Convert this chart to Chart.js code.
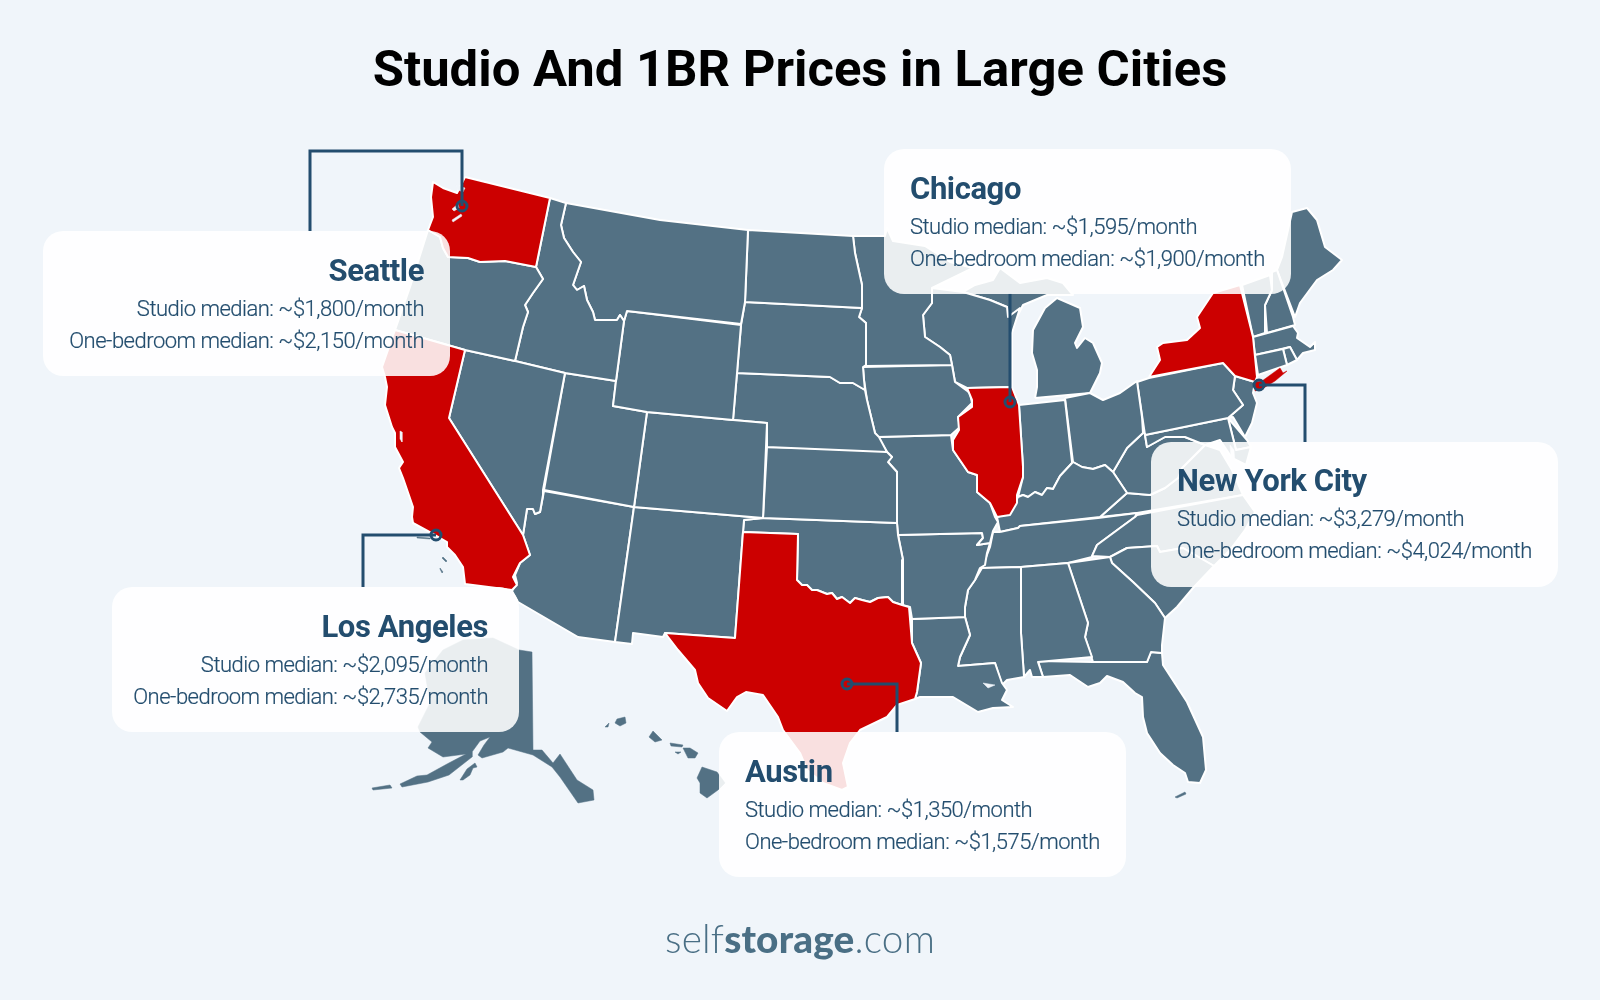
<!DOCTYPE html>
<html>
<head>
<meta charset="utf-8">
<title>Studio And 1BR Prices in Large Cities</title>
<script src="https://cdn.jsdelivr.net/npm/chart.js@4"></script>
<style>
  html, body { margin: 0; padding: 0; background: #f0f5fa; }
  #wrap { position: relative; width: 1600px; height: 1000px; overflow: hidden; font-family: Roboto, sans-serif; }
  #mapChart { position: absolute; left: 0; top: 0; }
  .card { position: absolute; box-sizing: border-box; width: 407px; height: 145px; padding: 0 26px; border-radius: 20px;
          background: rgba(255,255,255,0.88); color: #234d6e; }
  .card h3 { margin: 21px 0 0; font-size: 31px; line-height: 38px; font-weight: 700; letter-spacing: -0.4px; }
  .card p { margin: 0; font-size: 22px; line-height: 32px; font-weight: 300; letter-spacing: -0.5px; white-space: nowrap; -webkit-text-stroke: 0.2px #234d6e; }
  .card h3 + p { margin-top: 3px; }
  .right { text-align: right; }
  #card0 { left: 43px;   top: 231px; }
  #card1 { left: 884px;  top: 149px; }
  #card2 { left: 1151px; top: 442px; }
  #card2 h3 { margin-top: 20px; }
  #card3 { left: 112px;  top: 587px; padding-left: 20px; padding-right: 31px; }
  #card4 { left: 719px;  top: 732px; }
  #logo { position: absolute; left: 0; width: 1600px; top: 915px; text-align: center; font-family: Lato, sans-serif;
          font-size: 38.7px; line-height: 46px; color: #4a6f85; font-weight: 300; letter-spacing: 0.2px; }
  #logo b { font-weight: 900; }
</style>
</head>
<body>
<div id="wrap">
  <canvas id="mapChart" width="1600" height="1000"></canvas>
  <div id="cards"></div>
  <div id="logo">self<b>storage</b>.com</div>
</div>
<script>
// card values
const cities = ['Seattle', 'Chicago', 'New York City', 'Los Angeles', 'Austin'];
const studioMedian = [1800, 1595, 3279, 2095, 1350];
const oneBedMedian = [2150, 1900, 4024, 2735, 1575];
const rightAligned = ['Seattle', 'Los Angeles'];

// outlines, [x, y] in map units
const WA = [[465,177],[550,198],[536,267],[505,261],[480,262],[468,258],[448,257],[443,248],[440,237],[428,230],[433,217],[431,197],[433,182],[443,188],[457,193]];
const OR = [[428,230],[440,237],[443,248],[448,257],[468,258],[480,262],[505,261],[536,267],[543,279],[533,293],[525,305],[528,312],[523,327],[515,361],[465,350],[395,330],[410,287]];
const CA = [[395,330],[465,350],[449,418],[523,535],[530,555],[520,563],[513,577],[517,585],[512,590],[465,584],[463,567],[455,555],[447,547],[447,542],[435,535],[413,523],[412,517],[413,507],[403,478],[399,468],[403,462],[395,447],[395,433],[392,427],[385,405],[387,387],[385,377],[382,367]];
const NV = [[465,350],[515,361],[565,373],[543,490],[543,495],[540,512],[535,514],[533,509],[527,509],[523,535],[449,418]];
const ID = [[550,198],[566,203],[561,225],[564,238],[573,252],[581,262],[573,285],[577,290],[584,286],[587,300],[593,312],[595,320],[617,320],[620,315],[624,321],[616,381],[565,373],[515,361],[523,327],[528,312],[525,305],[533,293],[543,279],[536,267]];
const MT = [[566,203],[660,220],[748,230],[745,302],[741,324],[627,311],[624,321],[620,315],[617,320],[595,320],[593,312],[587,300],[584,286],[577,290],[573,285],[581,262],[573,252],[564,238],[561,225]];
const WY = [[627,311],[741,325],[737,373],[733,420],[647,412],[613,406],[616,381],[624,321]];
const UT = [[565,373],[616,381],[613,406],[647,412],[634,507],[544,490]];
const CO = [[647,412],[733,420],[767,423],[766,447],[763,518],[634,507]];
const NM = [[634,507],[763,518],[744,520],[743,532],[735,638],[665,633],[663,637],[633,633],[632,644],[615,642]];
const AZ = [[544,491],[634,507],[615,642],[578,637],[518,602],[512,591],[517,583],[515,575],[520,563],[530,555],[523,535],[527,509],[533,509],[535,514],[540,512]];
const ND = [[748,230],[853,236],[855,253],[862,285],[862,308],[745,302]];
const SD = [[745,302],[862,308],[859,317],[866,323],[866,365],[863,367],[864,380],[865,390],[853,383],[840,383],[830,377],[737,373],[741,325]];
const NE = [[737,373],[830,377],[840,383],[853,383],[865,390],[867,400],[875,433],[879,437],[887,452],[767,447],[767,423],[733,420]];
const KS = [[767,447],[880,450],[887,452],[892,457],[888,462],[897,472],[897,523],[763,518]];
const OK = [[744,520],[763,518],[897,523],[898,535],[903,560],[902,605],[893,602],[888,597],[878,598],[870,602],[862,600],[855,598],[850,603],[842,597],[837,599],[832,593],[827,594],[817,590],[812,590],[807,585],[802,585],[797,580],[798,534],[743,532]];
const TX = [[743,532],[798,534],[797,580],[802,585],[807,585],[812,590],[817,590],[827,594],[832,593],[837,599],[842,597],[850,603],[855,598],[862,600],[870,602],[878,598],[888,597],[893,602],[902,605],[909,607],[912,643],[921,663],[917,692],[915,699],[897,705],[887,717],[860,730],[850,743],[843,763],[848,787],[842,790],[823,783],[807,770],[800,753],[783,730],[778,717],[763,695],[746,692],[737,697],[727,711],[708,698],[698,683],[695,670],[678,650],[665,633],[735,638]];
const MN = [[853,236],[885,236],[887,228],[893,241],[925,246],[950,262],[973,268],[932,288],[932,303],[923,315],[925,337],[940,347],[950,355],[952,365],[866,366],[866,323],[859,317],[862,308],[862,285],[855,253]];
const IA = [[863,367],[952,365],[955,382],[970,393],[972,403],[958,417],[960,427],[951,435],[878,437],[875,433],[867,400],[864,380]];
const WI = [[932,288],[963,292],[990,300],[1007,307],[1008,317],[1020,308],[1012,333],[1012,387],[967,388],[955,382],[952,365],[950,355],[940,347],[925,337],[923,315],[932,303]];
const IL = [[967,388],[1012,387],[1019,405],[1023,467],[1023,477],[1017,495],[1017,503],[1010,515],[997,517],[990,503],[977,492],[977,475],[968,472],[953,450],[953,440],[959,430],[958,417],[972,407],[972,400]];
const MO = [[878,437],[951,435],[953,450],[968,472],[977,475],[977,492],[990,503],[995,517],[998,522],[993,531],[990,543],[977,545],[983,538],[982,533],[898,535],[897,523],[897,472],[888,462],[892,457],[887,452]];
const AR = [[898,535],[982,533],[983,538],[977,545],[990,543],[987,553],[985,565],[980,568],[975,580],[968,590],[965,607],[965,617],[912,619],[910,607],[902,605],[903,560]];
const LA = [[912,619],[965,617],[970,635],[960,657],[958,666],[995,663],[1002,683],[1007,690],[1002,700],[1013,707],[993,708],[978,712],[953,697],[920,697],[915,699],[917,692],[921,663],[912,643]];
const MS = [[982,568],[1021,567],[1021,633],[1024,677],[1007,680],[1002,685],[995,663],[958,666],[960,657],[970,635],[965,617],[965,607],[968,590],[975,580]];
const AL = [[1021,567],[1068,563],[1088,623],[1085,637],[1092,657],[1038,662],[1043,677],[1032,677],[1030,670],[1024,677],[1021,633]];
const GA = [[1068,563],[1110,557],[1112,563],[1133,582],[1155,603],[1165,618],[1162,645],[1162,653],[1151,652],[1147,662],[1093,662],[1085,637],[1088,623]];
const SC = [[1110,557],[1127,548],[1157,546],[1160,552],[1183,548],[1214,566],[1193,588],[1177,607],[1165,618],[1155,603],[1133,582],[1112,563]];
const NC = [[1137,515],[1243,495],[1255,512],[1245,530],[1230,550],[1214,566],[1183,548],[1160,552],[1157,546],[1127,548],[1110,557],[1092,556],[1097,545],[1120,528],[1135,517]];
const TN = [[1000,532],[1018,528],[1020,526],[1098,518],[1137,513],[1135,517],[1120,528],[1097,545],[1092,557],[1068,563],[1021,567],[982,568],[990,547],[993,532]];
const KY = [[1018,497],[1023,495],[1028,497],[1035,492],[1042,495],[1047,488],[1053,489],[1060,476],[1073,462],[1082,467],[1093,469],[1105,465],[1113,472],[1127,493],[1100,517],[1020,526],[1018,528],[1000,532],[997,517],[1010,513],[1015,503]];
const IN = [[1019,405],[1065,400],[1072,462],[1073,462],[1060,476],[1053,489],[1047,488],[1042,495],[1035,492],[1028,497],[1023,495],[1018,497],[1023,477],[1023,467]];
const OH = [[1065,398],[1090,393],[1103,400],[1120,393],[1137,381],[1142,417],[1143,433],[1127,448],[1120,460],[1113,472],[1105,465],[1093,469],[1082,467],[1073,462]];
const MI = [[1035,398],[1090,393],[1100,373],[1102,363],[1093,343],[1085,338],[1077,348],[1075,343],[1083,327],[1080,308],[1057,298],[1045,308],[1033,330],[1032,353],[1037,370],[1037,387]];
const UP = [[963,292],[990,300],[1007,307],[1008,317],[1017,317],[1023,305],[1047,295],[1073,295],[1063,283],[1047,278],[1020,283],[1000,268],[993,280],[975,285]];
const PA = [[1137,382],[1149,378],[1223,363],[1235,376],[1233,390],[1243,405],[1228,418],[1145,435]];
const NY = [[1149,377],[1160,360],[1157,347],[1163,343],[1187,340],[1200,328],[1197,317],[1213,293],[1240,285],[1253,337],[1257,377],[1255,382],[1235,376],[1223,363]];
const LI = [[1255,391],[1255,382],[1262,381],[1280,368],[1283,373],[1287,371],[1275,381],[1262,389]];
const NJ = [[1235,376],[1255,382],[1253,393],[1257,403],[1252,423],[1245,437],[1233,417],[1228,418],[1243,405],[1233,390]];
const CT = [[1255,355],[1283,349],[1287,365],[1258,375]];
const RI = [[1283,349],[1290,347],[1297,360],[1287,365]];
const MA = [[1253,337],[1293,326],[1298,333],[1297,338],[1310,347],[1315,342],[1315,350],[1303,353],[1297,360],[1290,347],[1255,355]];
const VT = [[1242,285],[1270,275],[1272,290],[1265,305],[1265,333],[1253,337]];
const NH = [[1272,272],[1277,270],[1293,317],[1295,325],[1267,333],[1265,305],[1272,290]];
const ME = [[1277,270],[1282,257],[1292,212],[1307,208],[1317,220],[1325,247],[1342,260],[1333,270],[1317,280],[1300,303],[1295,317]];
const DE = [[1228,418],[1247,440],[1251,447],[1236,450]];
const MD = [[1145,435],[1228,418],[1236,450],[1251,447],[1246,465],[1232,458],[1220,440],[1205,445],[1185,437],[1165,437],[1147,447]];
const WV = [[1143,418],[1145,435],[1147,447],[1165,437],[1185,437],[1205,445],[1190,460],[1182,468],[1178,478],[1165,488],[1150,495],[1127,493],[1113,472],[1120,460],[1127,448],[1143,433]];
const VA = [[1100,517],[1127,493],[1150,495],[1165,488],[1178,478],[1182,468],[1190,460],[1205,445],[1220,450],[1232,470],[1243,495],[1137,513]];
const FL = [[1038,661],[1093,662],[1147,657],[1147,662],[1151,652],[1162,653],[1163,665],[1187,702],[1203,737],[1206,770],[1200,783],[1188,782],[1185,773],[1173,765],[1160,753],[1147,733],[1143,717],[1142,697],[1135,693],[1123,682],[1107,676],[1100,683],[1088,687],[1070,675],[1043,677]];

const AK = [[519,650],[532,652],[533,750],[542,750],[553,763],[560,754],[577,780],[593,790],[594,800],[578,803],[560,777],[552,767],[533,755],[508,748],[503,752],[482,758],[478,755],[484,745],[490,737],[480,741],[472,752],[472,757],[449,775],[428,782],[402,787],[400,784],[417,776],[427,775],[447,764],[466,754],[443,757],[428,748],[432,742],[420,732],[418,727],[430,703],[425,673],[443,650],[463,640],[493,638]];
const ALEUT = [[372,788],[390,785],[392,788],[373,790]];
const KODIAK = [[460,780],[467,769],[475,763],[477,767],[473,768],[470,775],[463,780]];
const KEYS = [[1175,797],[1185,792],[1186,794],[1177,798]];
const HI_BIG = [[702,767],[717,772],[725,783],[718,790],[707,798],[700,793],[700,783],[697,778]];
const HI_MAUI = [[683,748],[690,748],[698,753],[695,758],[688,758]];
const HI_MOLOKAI = [[670,743],[683,745],[682,747],[671,746]];
const HI_LANAI = [[675,752],[681,752],[678,754]];
const HI_OAHU = [[653,731],[662,740],[655,742],[649,737]];
const HI_KAUAI = [[617,719],[625,717],[626,723],[620,726],[615,723]];
const HI_NIIHAU = [[605,727],[609,723],[608,727]];
const CH_ISL1 = [[443,557],[447,561],[446,562],[442,558]];
const CH_ISL2 = [[440,568],[443,572],[442,573],[440,569]];
const CH_ISL3 = [[417,537],[430,538],[430,539],[417,538]];

// water cut into the land
const PUGET1 = [[452,209],[458,204],[459,208],[454,211]];
const PUGET2 = [[452,220],[461,214],[462,216],[453,222]];
const PUGET3 = [[456,185],[465,188],[463,192],[458,190]];
const SF_BAY = [[400,431],[402,432],[402,442],[400,439]];
const PONTCHARTRAIN = [[983,683],[995,685],[988,688]];
const CHESAPEAKE = [[1230,445],[1234,450],[1236,478],[1232,470]];

// leader lines, dot first
const leaderSeattle = [[462,206],[462,151],[310,151],[310,231]];
const leaderChicago = [[1010,402],[1010,293]];
const leaderNewYork = [[1259,385],[1305,385],[1305,442]];
const leaderLosAngeles = [[436,535],[363,535],[363,587]];
const leaderAustin = [[847,684],[897,684],[897,732]];

const greyStates = [OR, NV, ID, MT, WY, UT, CO, NM, AZ, ND, SD, NE, KS, OK, MN, IA, WI, MO, AR, LA, MS, AL, GA, SC, NC, TN, KY, IN, OH, MI, UP, PA, NJ, CT, RI, MA, VT, NH, ME, MD, DE, WV, VA, FL];
const redStates = [WA, CA, TX, IL, NY];
const islands = [AK, ALEUT, KODIAK, KEYS, HI_BIG, HI_MAUI, HI_MOLOKAI, HI_LANAI, HI_OAHU, HI_KAUAI, HI_NIIHAU, CH_ISL1, CH_ISL2, CH_ISL3];
const water = [PUGET1, PUGET2, PUGET3, SF_BAY, PONTCHARTRAIN, CHESAPEAKE];
const leaders = [leaderSeattle, leaderChicago, leaderNewYork, leaderLosAngeles, leaderAustin];

const SLATE = '#537184', RED = '#cc0000', BG = '#f0f5fa', NAVY = '#234d6e';

function toPoints(pairs) {
    return pairs.map(p => ({ x: p[0], y: p[1] }));
}

function shape(pairs, fillColor, lineColor, lineWidth) {
    return {
        data: toPoints(pairs.concat([pairs[0]])),
        showLine: true,
        fill: 'shape',
        backgroundColor: fillColor,
        borderColor: lineColor,
        borderWidth: lineWidth,
        borderJoinStyle: 'round',
        pointRadius: 0,
        tension: 0
    };
}

function leader(pairs) {
    return {
        data: toPoints(pairs),
        showLine: true,
        fill: false,
        borderColor: NAVY,
        borderWidth: 3,
        borderJoinStyle: 'miter',
        pointRadius: pairs.map((p, i) => i === 0 ? 5 : 0),
        pointBorderWidth: 3,
        pointBorderColor: NAVY,
        pointBackgroundColor: 'rgba(0,0,0,0)',
        tension: 0
    };
}

// chart.js paints the first dataset last, so the top layer goes first
const datasets = [
    ...leaders.map(leader),
    ...water.map(s => shape(s, BG, BG, 0.5)),
    shape(LI, RED, RED, 0.5),
    ...redStates.map(s => shape(s, RED, '#ffffff', 2)),
    ...greyStates.map(s => shape(s, SLATE, '#ffffff', 2)),
    ...islands.map(s => shape(s, SLATE, SLATE, 0.5))
];

new Chart(document.getElementById('mapChart').getContext('2d'), {
    type: 'scatter',
    data: { datasets: datasets },
    options: {
        responsive: false,
        animation: false,
        devicePixelRatio: 1,
        layout: { padding: 0, autoPadding: false },
        clip: false,
        scales: {
            x: { type: 'linear', min: 0, max: 1600, display: false },
            y: { type: 'linear', min: 104, max: 1000, reverse: true, display: false }
        },
        plugins: {
            legend: { display: false },
            tooltip: { enabled: false },
            title: {
                display: true,
                text: 'Studio And 1BR Prices in Large Cities',
                color: '#000000',
                padding: { top: 43, bottom: 0 },
                font: { family: 'Roboto', size: 50.8, weight: 'bold', lineHeight: '61px' }
            }
        }
    }
});

// the white cards carry the prices
const fmt = v => '~$' + v.toLocaleString('en-US') + '/month';
const cardsEl = document.getElementById('cards');
cities.forEach((name, i) => {
    const card = document.createElement('div');
    card.id = 'card' + i;
    card.className = 'card' + (rightAligned.includes(name) ? ' right' : '');
    card.innerHTML = '<h3>' + name + '</h3>' +
        '<p>Studio median: ' + fmt(studioMedian[i]) + '</p>' +
        '<p>One-bedroom median: ' + fmt(oneBedMedian[i]) + '</p>';
    cardsEl.appendChild(card);
});
</script>
</body>
</html>
